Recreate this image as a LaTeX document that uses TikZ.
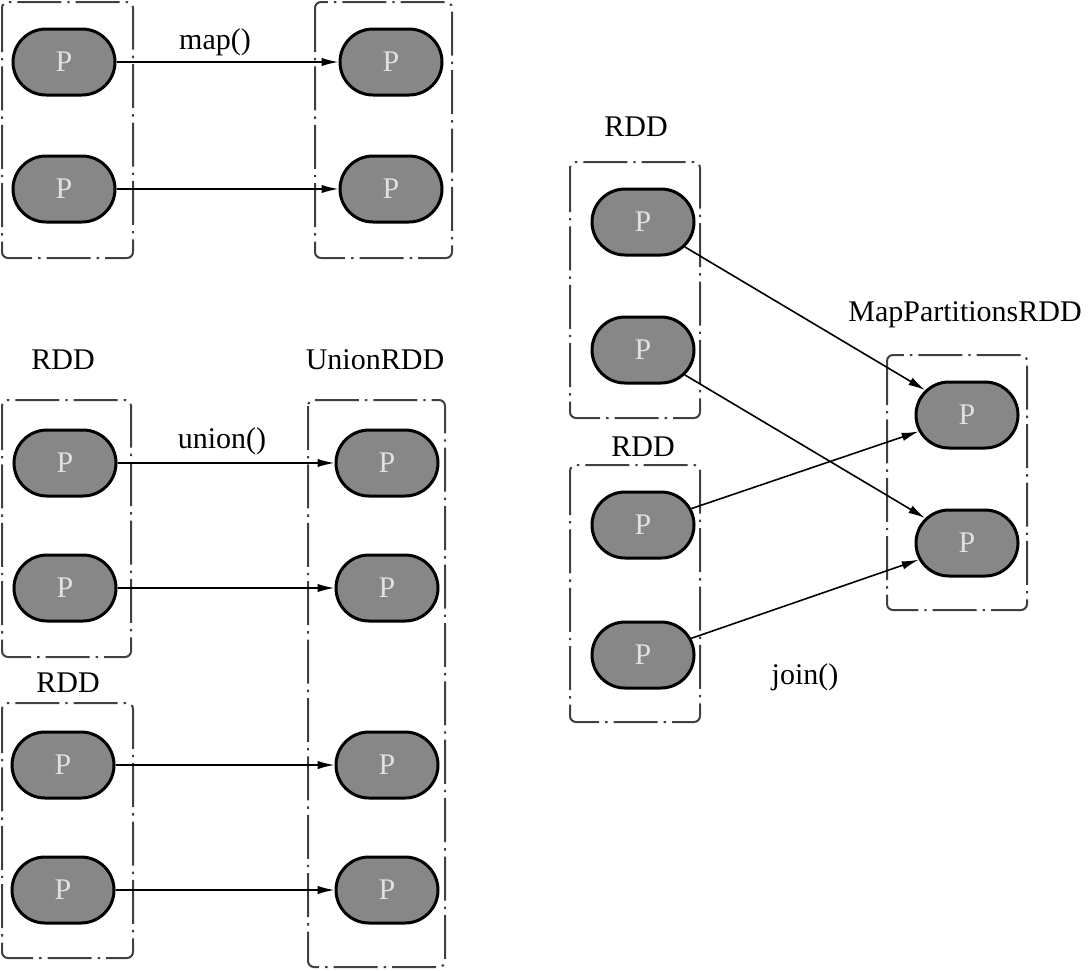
\documentclass[tikz,border=0pt]{standalone}
\usepackage{fontspec}
\setmainfont{Liberation Serif}
\usetikzlibrary{shapes.misc, arrows.meta}

\tikzset{
  part/.style={rounded rectangle, draw=black, line width=1.5pt, fill=black!47,
    minimum width=51pt, minimum height=33pt, inner sep=0pt,
    text=white!88!black, font=\fontsize{15}{18}\selectfont},
  rddbox/.style={draw=black!75, line width=1pt, rounded corners=3pt,
    dash pattern=on 22pt off 3pt on 1.2pt off 3pt},
  title/.style={font=\fontsize{15}{18}\selectfont},
  link/.style={draw=black, line width=0.8pt, -{Latex[length=8.5pt,width=4.2pt]}}
}

\begin{document}
\begin{tikzpicture}[x=0.5pt, y=-0.5pt]
  \useasboundingbox (0,0) rectangle (1090,970);

  % 1. map(): one partition to one partition
  \draw[rddbox] (2,2) rectangle (133,258);
  \draw[rddbox] (315,2) rectangle (452,258);
  \node[part] (ma1) at (64,62) {P};
  \node[part] (ma2) at (64,189) {P};
  \node[part] (mb1) at (391,62) {P};
  \node[part] (mb2) at (391,189) {P};
  \node[title] (mapfn) at (215,42) {map()};
  \draw[link] (ma1) -- (mb1);
  \draw[link] (ma2) -- (mb2);

  % 2. union(): two RDDs into UnionRDD
  \node[title] (rddu1) at (63,360) {RDD};
  \node[title] (unionrdd) at (375,360) {UnionRDD};
  \node[title] (rddu2) at (68,683) {RDD};
  \draw[rddbox] (2,400) rectangle (131,657);
  \draw[rddbox] (2,703) rectangle (133,958);
  \draw[rddbox] (308,400) rectangle (445,967);
  \node[part] (ua1) at (65,463) {P};
  \node[part] (ua2) at (65,588) {P};
  \node[part] (ub1) at (63,765) {P};
  \node[part] (ub2) at (63,890) {P};
  \node[part] (uc1) at (387,463) {P};
  \node[part] (uc2) at (387,588) {P};
  \node[part] (uc3) at (387,765) {P};
  \node[part] (uc4) at (387,890) {P};
  \node[title] (unionfn) at (222,441) {union()};
  \draw[link] (ua1) -- (uc1);
  \draw[link] (ua2) -- (uc2);
  \draw[link] (ub1) -- (uc3);
  \draw[link] (ub2) -- (uc4);

  % 3. join(): two RDDs into MapPartitionsRDD
  \node[title] (rddj1) at (636,127) {RDD};
  \node[title] (rddj2) at (643,447) {RDD};
  \node[title] (mprdd) at (965,315) {MapPartitionsRDD};
  \draw[rddbox] (570,162) rectangle (700,418);
  \draw[rddbox] (570,465) rectangle (700,722);
  \draw[rddbox] (887,355) rectangle (1027,610);
  \node[part] (ja1) at (643,222) {P};
  \node[part] (ja2) at (643,350) {P};
  \node[part] (jb1) at (643,525) {P};
  \node[part] (jb2) at (643,655) {P};
  \node[part] (jc1) at (967,415) {P};
  \node[part] (jc2) at (967,543) {P};
  \node[title] (joinfn) at (805,677) {join()};
  \draw[link] (ja1) -- (jc1);
  \draw[link] (ja2) -- (jc2);
  \draw[link] (jb1) -- (jc1);
  \draw[link] (jb2) -- (jc2);
\end{tikzpicture}
\end{document}
